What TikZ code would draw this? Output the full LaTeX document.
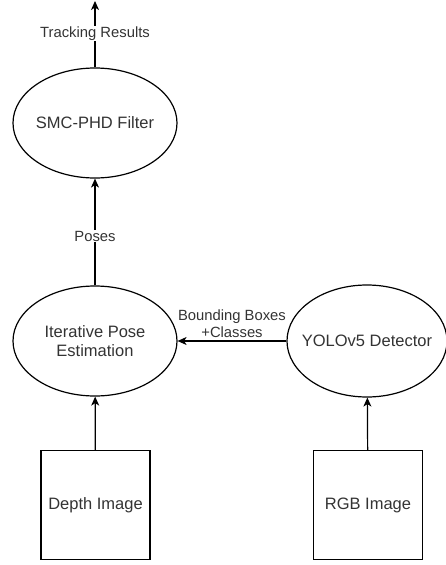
\documentclass[tikz,border=0pt]{standalone}
\usepackage{fontspec}
\setmainfont{Liberation Sans}
\usetikzlibrary{shapes.geometric,arrows.meta}
\definecolor{txtgray}{HTML}{333333}
\tikzset{
	proc/.style={ellipse, draw, line width=1.2pt, minimum width=164pt, minimum height=110pt,
		inner xsep=-15pt, inner ysep=0pt, align=center, text=txtgray, font=\fontsize{16.5}{19}\selectfont},
	imgbox/.style={rectangle, draw, line width=1.2pt, minimum size=109pt, inner sep=0pt,
		text=txtgray, font=\fontsize{16.5}{19}\selectfont},
	flow/.style={line width=1.2pt, -{Stealth[length=9pt,width=8pt,inset=2.5pt]}},
	lbl/.style={text=txtgray, font=\fontsize{14.8}{17}\selectfont, align=center, inner sep=1pt}
}
\begin{document}
\begin{tikzpicture}[x=1pt,y=-1pt]
		\useasboundingbox (0,0) rectangle (446,565);
		% filter and its output
		\node[proc] (smc) at (95,123) {SMC-PHD Filter};
		\coordinate (res) at (95,1);
		% pose estimation and detector
		\node[proc] (ipe) at (95,341) {Iterative Pose\\Estimation};
		\node[proc, minimum width=160pt, minimum height=112pt] (yolo) at (367,341) {YOLOv5 Detector};
		% input images
		\node[imgbox] (depth) at (95.5,505) {Depth Image};
		\node[imgbox] (rgb) at (368,505) {RGB Image};
		
		\draw[flow] (smc) -- node[lbl, fill=white, pos=0.51] {Tracking Results} (res);
		\draw[flow] (ipe) -- node[lbl, fill=white, pos=0.46] {Poses} (smc);
		\draw[flow] (yolo) -- node[lbl, above=2pt, midway] {Bounding Boxes\\+Classes} (ipe);
		\draw[flow] (depth) -- (ipe);
		\draw[flow] (rgb) -- (yolo);
\end{tikzpicture}
\end{document}
